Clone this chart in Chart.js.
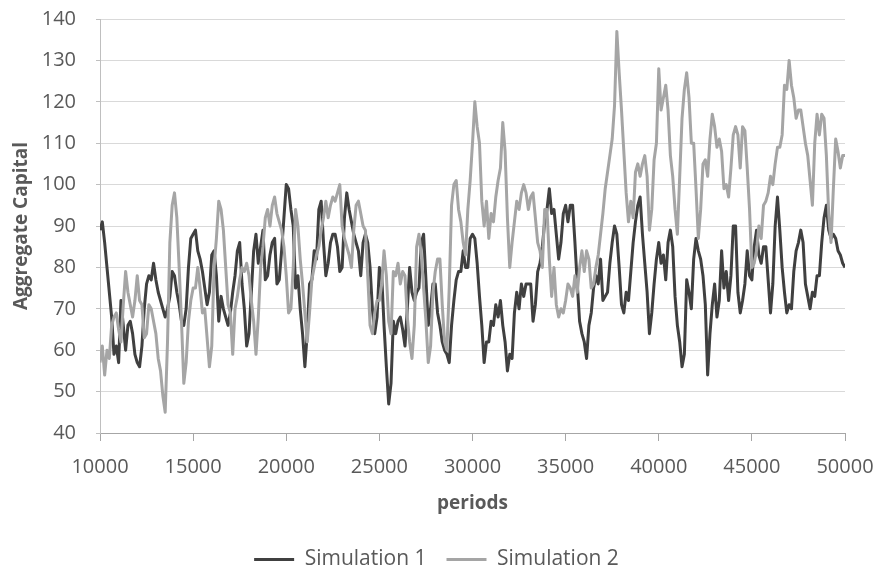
<!DOCTYPE html>
<html>
<head>
<meta charset="utf-8">
<title>Aggregate Capital</title>
<script src="https://cdn.jsdelivr.net/npm/chart.js@4/dist/chart.umd.min.js"></script>
<style>
    html, body { margin: 0; padding: 0; background: #fff; overflow: hidden; }
    #wrap { position: relative; width: 879px; height: 573px; }
</style>
</head>
<body>
<div id="wrap"><canvas id="capitalChart"></canvas></div>
<script>
// x values (periods), every 125 periods
const periods = [
    10000, 10125, 10250, 10375, 10500, 10625, 10750, 10875,
    11000, 11125, 11250, 11375, 11500, 11625, 11750, 11875,
    12000, 12125, 12250, 12375, 12500, 12625, 12750, 12875,
    13000, 13125, 13250, 13375, 13500, 13625, 13750, 13875,
    14000, 14125, 14250, 14375, 14500, 14625, 14750, 14875,
    15000, 15125, 15250, 15375, 15500, 15625, 15750, 15875,
    16000, 16125, 16250, 16375, 16500, 16625, 16750, 16875,
    17000, 17125, 17250, 17375, 17500, 17625, 17750, 17875,
    18000, 18125, 18250, 18375, 18500, 18625, 18750, 18875,
    19000, 19125, 19250, 19375, 19500, 19625, 19750, 19875,
    20000, 20125, 20250, 20375, 20500, 20625, 20750, 20875,
    21000, 21125, 21250, 21375, 21500, 21625, 21750, 21875,
    22000, 22125, 22250, 22375, 22500, 22625, 22750, 22875,
    23000, 23125, 23250, 23375, 23500, 23625, 23750, 23875,
    24000, 24125, 24250, 24375, 24500, 24625, 24750, 24875,
    25000, 25125, 25250, 25375, 25500, 25625, 25750, 25875,
    26000, 26125, 26250, 26375, 26500, 26625, 26750, 26875,
    27000, 27125, 27250, 27375, 27500, 27625, 27750, 27875,
    28000, 28125, 28250, 28375, 28500, 28625, 28750, 28875,
    29000, 29125, 29250, 29375, 29500, 29625, 29750, 29875,
    30000, 30125, 30250, 30375, 30500, 30625, 30750, 30875,
    31000, 31125, 31250, 31375, 31500, 31625, 31750, 31875,
    32000, 32125, 32250, 32375, 32500, 32625, 32750, 32875,
    33000, 33125, 33250, 33375, 33500, 33625, 33750, 33875,
    34000, 34125, 34250, 34375, 34500, 34625, 34750, 34875,
    35000, 35125, 35250, 35375, 35500, 35625, 35750, 35875,
    36000, 36125, 36250, 36375, 36500, 36625, 36750, 36875,
    37000, 37125, 37250, 37375, 37500, 37625, 37750, 37875,
    38000, 38125, 38250, 38375, 38500, 38625, 38750, 38875,
    39000, 39125, 39250, 39375, 39500, 39625, 39750, 39875,
    40000, 40125, 40250, 40375, 40500, 40625, 40750, 40875,
    41000, 41125, 41250, 41375, 41500, 41625, 41750, 41875,
    42000, 42125, 42250, 42375, 42500, 42625, 42750, 42875,
    43000, 43125, 43250, 43375, 43500, 43625, 43750, 43875,
    44000, 44125, 44250, 44375, 44500, 44625, 44750, 44875,
    45000, 45125, 45250, 45375, 45500, 45625, 45750, 45875,
    46000, 46125, 46250, 46375, 46500, 46625, 46750, 46875,
    47000, 47125, 47250, 47375, 47500, 47625, 47750, 47875,
    48000, 48125, 48250, 48375, 48500, 48625, 48750, 48875,
    49000, 49125, 49250, 49375, 49500, 49625, 49750, 49875,
    50000
];

// Simulation 1 (dark line), one row per 2500 periods
const simulation1 = [
    89, 91, 86, 80, 74, 68, 59, 61, 57, 72, 66, 60, 66, 67, 64, 59, 57, 56, 61, 70,
    76, 78, 77, 81, 77, 74, 72, 70, 68, 70, 73, 79, 78, 74, 71, 67, 66, 70, 80, 87,
    88, 89, 84, 82, 79, 75, 71, 74, 83, 84, 78, 67, 73, 70, 68, 66, 69, 74, 78, 84,
    86, 76, 70, 61, 64, 74, 84, 88, 81, 85, 89, 77, 78, 83, 86, 87, 76, 77, 84, 92,
    100, 99, 94, 90, 75, 78, 70, 64, 56, 64, 76, 77, 84, 82, 94, 96, 86, 78, 81, 86,
    88, 88, 85, 79, 80, 92, 98, 94, 91, 88, 86, 84, 78, 86, 88, 86, 80, 70, 64, 68,
    80, 78, 66, 56, 47, 52, 67, 64, 67, 68, 65, 61, 70, 80, 74, 72, 74, 75, 86, 88,
    77, 66, 70, 76, 76, 69, 66, 62, 60, 59, 57, 66, 72, 77, 79, 79, 84, 80, 80, 87,
    88, 87, 81, 73, 66, 57, 62, 62, 67, 66, 71, 68, 72, 66, 62, 55, 59, 58, 69, 74,
    70, 76, 73, 76, 76, 76, 67, 71, 79, 81, 85, 91, 94, 99, 93, 94, 88, 82, 86, 93,
    95, 91, 95, 95, 86, 76, 67, 64, 62, 58, 66, 69, 75, 78, 76, 82, 72, 73, 74, 81,
    86, 90, 88, 80, 71, 69, 74, 72, 79, 86, 91, 95, 97, 88, 81, 74, 64, 69, 76, 82,
    86, 81, 83, 77, 86, 89, 85, 73, 66, 62, 56, 59, 77, 74, 70, 82, 87, 84, 82, 78,
    71, 54, 64, 71, 76, 68, 72, 84, 75, 79, 72, 78, 90, 90, 74, 69, 72, 76, 84, 78,
    77, 85, 89, 83, 81, 85, 85, 77, 69, 76, 90, 97, 89, 80, 74, 69, 71, 70, 79, 84,
    86, 89, 86, 76, 73, 70, 74, 73, 78, 78, 86, 92, 95, 89, 87, 88, 87, 84, 83, 81,
    80
];

// Simulation 2 (light line)
const simulation2 = [
    57, 61, 54, 60, 58, 66, 68, 69, 65, 62, 71, 79, 74, 71, 68, 72, 78, 72, 71, 63,
    64, 71, 70, 67, 64, 58, 55, 49, 45, 62, 86, 95, 98, 92, 80, 67, 52, 57, 67, 72,
    75, 75, 80, 75, 69, 70, 63, 56, 61, 80, 87, 96, 94, 89, 80, 71, 69, 59, 70, 73,
    77, 80, 79, 81, 78, 72, 67, 59, 68, 80, 85, 92, 94, 90, 95, 97, 93, 91, 89, 85,
    78, 69, 70, 80, 94, 90, 82, 76, 69, 62, 69, 77, 80, 83, 85, 89, 92, 96, 92, 95,
    97, 96, 98, 100, 90, 87, 85, 83, 80, 89, 95, 96, 93, 90, 89, 78, 66, 64, 69, 72,
    72, 76, 84, 78, 67, 64, 79, 78, 81, 76, 79, 78, 68, 62, 58, 66, 85, 88, 83, 75,
    67, 57, 61, 74, 79, 82, 82, 71, 62, 60, 75, 95, 100, 101, 94, 91, 86, 83, 94, 101,
    110, 120, 114, 110, 96, 90, 96, 87, 93, 91, 97, 101, 104, 115, 108, 92, 80, 86, 91, 96,
    94, 98, 100, 98, 94, 97, 98, 92, 86, 84, 80, 94, 94, 82, 73, 80, 71, 68, 70, 69,
    72, 76, 75, 73, 78, 74, 80, 84, 79, 84, 82, 75, 76, 80, 83, 88, 93, 99, 103, 107,
    111, 119, 137, 127, 118, 108, 98, 91, 96, 92, 103, 105, 102, 105, 107, 102, 89, 94, 106, 110,
    128, 118, 121, 124, 118, 107, 102, 94, 88, 102, 116, 123, 127, 121, 110, 110, 99, 87, 94, 105,
    106, 102, 111, 117, 114, 109, 111, 108, 99, 100, 97, 104, 112, 114, 112, 104, 114, 113, 104, 94,
    80, 81, 84, 90, 87, 95, 96, 98, 102, 100, 105, 109, 109, 112, 124, 123, 130, 124, 121, 116,
    118, 118, 114, 110, 107, 101, 95, 110, 117, 112, 117, 116, 107, 93, 86, 99, 111, 108, 104, 107,
    107
];

const yTicks = [40, 50, 60, 70, 80, 90, 100, 110, 120, 130, 140];
const xTicks = [10000, 15000, 20000, 25000, 30000, 35000, 40000, 45000, 50000];

const seriesNames = ['Simulation 1', 'Simulation 2'];
const seriesColors = ['#404040', '#a5a5a5'];

// {x, y} pairs for the linear x scale
function toPoints(values) {
    return values.map((v, i) => ({ x: periods[i], y: v }));
}

// nudge the legend row a little to the right, like the original
const legendShift = {
    id: 'legendShift',
    afterLayout(chart) {
        if (chart.legend) {
            chart.legend.left += 14;
            chart.legend.right += 14;
        }
    }
};

Chart.defaults.font.family = '"Open Sans", "Noto Sans", sans-serif';
Chart.defaults.color = '#595959';

const ctx = document.getElementById('capitalChart');

new Chart(ctx.getContext('2d'), {
    type: 'line',
    data: {
        datasets: [
            {
                label: seriesNames[0],
                data: toPoints(simulation1),
                borderColor: seriesColors[0],
                backgroundColor: seriesColors[0],
                borderWidth: 3,
                borderJoinStyle: 'round',
                pointRadius: 0,
                tension: 0,
                order: 1
            },
            {
                label: seriesNames[1],
                data: toPoints(simulation2),
                borderColor: seriesColors[1],
                backgroundColor: seriesColors[1],
                borderWidth: 3,
                borderJoinStyle: 'round',
                pointRadius: 0,
                tension: 0,
                order: 0   // light line drawn on top
            }
        ]
    },
    options: {
        responsive: true,
        maintainAspectRatio: false,
        animation: false,
        layout: {
            padding: { top: 19, right: 34, left: 0, bottom: -7 }
        },
        scales: {
            x: {
                type: 'linear',
                min: xTicks[0],
                max: xTicks[xTicks.length - 1],
                afterBuildTicks: (scale) => {
                    scale.ticks = xTicks.map(v => ({ value: v }));
                },
                afterFit: (scale) => {
                    scale.height = 96;
                    scale.paddingLeft = 0;
                    scale.paddingRight = 0;
                },
                ticks: {
                    padding: 14,
                    font: { size: 20 },
                    callback: (value) => String(value)
                },
                grid: {
                    drawOnChartArea: false,
                    tickLength: 8,
                    tickColor: '#a6a6a6'
                },
                border: { display: true, color: '#a6a6a6', width: 1 },
                title: {
                    display: true,
                    text: 'periods',
                    font: { size: 19, weight: 'bold' },
                    padding: { top: 0, bottom: 14 }
                }
            },
            y: {
                min: yTicks[0],
                max: yTicks[yTicks.length - 1],
                afterBuildTicks: (scale) => {
                    scale.ticks = yTicks.map(v => ({ value: v }));
                },
                afterFit: (scale) => {
                    scale.width = 100;
                    scale.paddingTop = 0;
                    scale.paddingBottom = 0;
                },
                ticks: {
                    padding: 20,
                    font: { size: 20 }
                },
                grid: {
                    color: '#d9d9d9',
                    tickLength: 4,
                    tickColor: '#bfbfbf'
                },
                border: { display: true, color: '#bfbfbf', width: 1 },
                title: {
                    display: true,
                    text: 'Aggregate Capital',
                    font: { size: 19, weight: 'bold' },
                    padding: { top: 10, bottom: 0 }
                }
            }
        },
        plugins: {
            legend: {
                position: 'bottom',
                labels: {
                    boxWidth: 40,
                    boxHeight: 3,
                    padding: 20,
                    font: { size: 21 },
                    sort: (a, b) => a.datasetIndex - b.datasetIndex,
                    generateLabels: (chart) => {
                        const items = Chart.defaults.plugins.legend.labels.generateLabels(chart);
                        items.forEach(item => { item.lineWidth = 0; });
                        return items;
                    }
                }
            },
            tooltip: { enabled: false }
        }
    },
    plugins: [legendShift]
});
</script>
</body>
</html>
